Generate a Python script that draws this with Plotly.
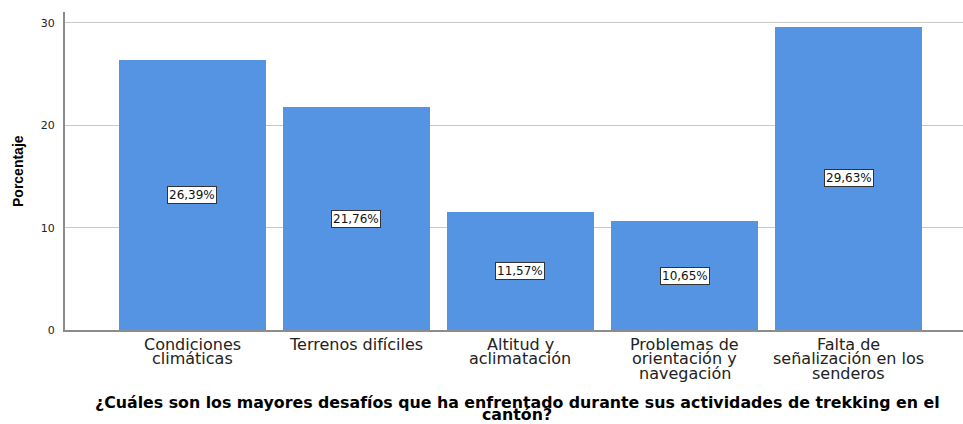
import plotly.graph_objects as go

categories = ["Condiciones<br>climáticas", "Terrenos difíciles", "Altitud y<br>aclimatación",
              "Problemas de<br>orientación y<br>navegación", "Falta de<br>señalización en los<br>senderos"]
values = [26.39, 21.76, 11.57, 10.65, 29.63]
value_labels = ["26,39%", "21,76%", "11,57%", "10,65%", "29,63%"]
y_ticks = [0, 10, 20, 30]
x_title = "¿Cuáles son los mayores desafíos que ha enfrentado durante sus actividades de trekking en el<br>cantón?"
y_title = "Porcentaje"

BAR = "rgb(85,147,227)"
FONT = "DejaVu Sans"

xs = list(range(len(categories)))
fig = go.Figure(go.Bar(x=xs, y=values, width=0.896, marker=dict(color=BAR, line=dict(width=0)),
                       hoverinfo="skip"))

annotations = []
for i, (v, lab) in enumerate(zip(values, value_labels)):
    annotations.append(dict(x=i, y=v / 2, xref="x", yref="y", text=lab, showarrow=False,
                            font=dict(family=FONT, size=12, color="#111"),
                            bgcolor="white", bordercolor="#333", borderwidth=1, borderpad=1))
for i, cat in enumerate(categories):
    for j, line in enumerate(cat.split("<br>")):
        annotations.append(dict(x=i, y=0, xref="x", yref="y", text=line, showarrow=False,
                                yanchor="middle", yshift=-14 - 14.5 * j,
                                font=dict(family=FONT, size=16, color="#222")))
for j, line in enumerate(x_title.split("<br>")):
    annotations.append(dict(x=0.5, y=0, xref="paper", yref="paper", text="<b>" + line + "</b>",
                            showarrow=False, yanchor="middle", yshift=-72 - 12.5 * j, xshift=3,
                            font=dict(family=FONT, size=15.8, color="#000")))
annotations.append(dict(x=0, y=0.5, xref="paper", yref="paper", text="<b>" + y_title + "</b>",
                        showarrow=False, textangle=-90, xanchor="center", xshift=-47,
                        font=dict(family="Liberation Sans", size=14, color="#000")))

fig.update_layout(
    width=963, height=424, margin=dict(l=65, r=0, t=12, b=94, autoexpand=False),
    paper_bgcolor="white", plot_bgcolor="white", showlegend=False,
    bargap=0, annotations=annotations,
    xaxis=dict(range=[-0.777, 4.698], showticklabels=False, ticks="", showgrid=False,
               zeroline=False, showline=True, linecolor="#8c8c8c", linewidth=2, fixedrange=True),
    yaxis=dict(range=[0, 31.07], tickvals=y_ticks, ticktext=[str(t) for t in y_ticks],
               showgrid=True, gridcolor="#c8c8c8", gridwidth=1, zeroline=False,
               showline=True, linecolor="#8c8c8c", linewidth=2, ticks="",
               tickfont=dict(family=FONT, size=11, color="#222"), ticklabelstandoff=6),
)
fig.write_html("out.html", config={"displayModeBar": False},
               post_script="document.body.style.margin='0';")
